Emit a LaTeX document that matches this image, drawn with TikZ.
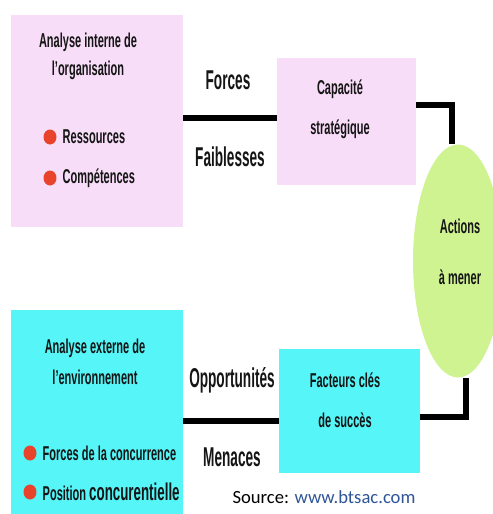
\documentclass[tikz,border=0pt]{standalone}
\usepackage{fontspec}
\setmainfont[FakeStretch=0.55]{Liberation Sans}
\newfontfamily\labfont[FakeStretch=0.5]{Liberation Sans}
\newfontfamily\srcfont{Carlito}
\usepackage{tikz}
\usetikzlibrary{positioning, shapes.geometric, backgrounds}
\usepackage{xcolor}
\definecolor{intpink}{HTML}{F8DDF8}
\definecolor{extcyan}{HTML}{55F5F8}
\definecolor{actgreen}{HTML}{D0F391}
\definecolor{dotred}{HTML}{E8432B}
\definecolor{srcblue}{HTML}{2F5597}
\definecolor{inkdark}{HTML}{151515}

\begin{document}
\begin{tikzpicture}[x=0.02cm, y=-0.02cm,
    panel/.style={rectangle, inner sep=0pt},
    lbl/.style={font=\fontsize{11.4}{13.7}\selectfont\bfseries, text=inkdark, align=center, inner sep=0pt},
    big/.style={font=\labfont\fontsize{15.5}{18}\selectfont\bfseries, text=inkdark, inner sep=0pt},
    dot/.style={ellipse, fill=dotred, minimum width=0.26cm, minimum height=0.3cm, inner sep=0pt},
    link/.style={line width=0.11cm, black}]
  \useasboundingbox (0,0) rectangle (493,514);
  \clip (0,0) rectangle (493,514);

  % boxes
  \node[panel, fill=intpink, minimum width=3.44cm, minimum height=4.24cm] (intern) at (97,121) {};
  \node[panel, fill=intpink, minimum width=2.78cm, minimum height=2.54cm] (capa) at (346.5,121.5) {};
  \node[panel, fill=extcyan, minimum width=3.44cm, minimum height=4.08cm] (extern) at (97,412) {};
  \node[panel, fill=extcyan, minimum width=2.82cm, minimum height=2.48cm] (fcs) at (349.5,411) {};
  \node[ellipse, fill=actgreen, minimum width=1.8cm, minimum height=4.66cm, inner sep=0pt] (act) at (458,261) {};

  % texts in the boxes
  \node[lbl] (interntxt) at (88,56) {Analyse interne de\\[2.2pt]l'organisation};
  \node[lbl] (externtxt) at (95,362) {Analyse externe de\\[3.9pt]l'environnement};
  \node[lbl] (capatxt) at (340,109) {Capacité\\[9pt]stratégique};
  \node[lbl] (fcstxt) at (345,400) {Facteurs clés\\[9pt]de succès};
  \node[lbl] (acttxt) at (460,252) {Actions\\[15pt]à mener};

  \foreach \y/\txt [count=\k] in {137/Ressources, 178/Compétences}{
    \node[dot] (idot\k) at (50,\y) {};
    \node[lbl, right=0.11cm of idot\k] (iitem\k) {\txt};
  }
  \foreach \y/\txt [count=\k] in {453/{Forces de la concurrence},
      492/{Position {\fontsize{13.8}{15}\selectfont concurentielle}}}{
    \node[dot] (edot\k) at (30,\y) {};
    \node[lbl, right=0.11cm of edot\k] (eitem\k) {\txt};
  }

  % labels of the links
  \node[big] (forces) at (228,80) {Forces};
  \node[big] (faibl) at (230,157) {Faiblesses};
  \node[big] (oppo) at (232,380) {Opportunités};
  \node[big] (menac) at (232,457) {Menaces};

  \node[font=\srcfont\fontsize{10.6}{12}\selectfont, inner sep=0pt] (src) at (324,497)
    {Source: \textcolor{srcblue}{www.btsac.com}};

  \begin{scope}[on background layer]
    \draw[link] ([yshift=0.06cm]intern.east) -- ([yshift=0.06cm]intern.east -| capa.west);
    \draw[link] ([yshift=0.33cm]capa.east) -| ([xshift=-0.12cm]act.north);
    \draw[link] ([yshift=-0.18cm]extern.east) -- ([yshift=-0.18cm]extern.east -| fcs.west);
    \draw[link] ([yshift=-0.12cm]fcs.east) -| ([xshift=0.16cm]act.south);
  \end{scope}
\end{tikzpicture}
\end{document}
